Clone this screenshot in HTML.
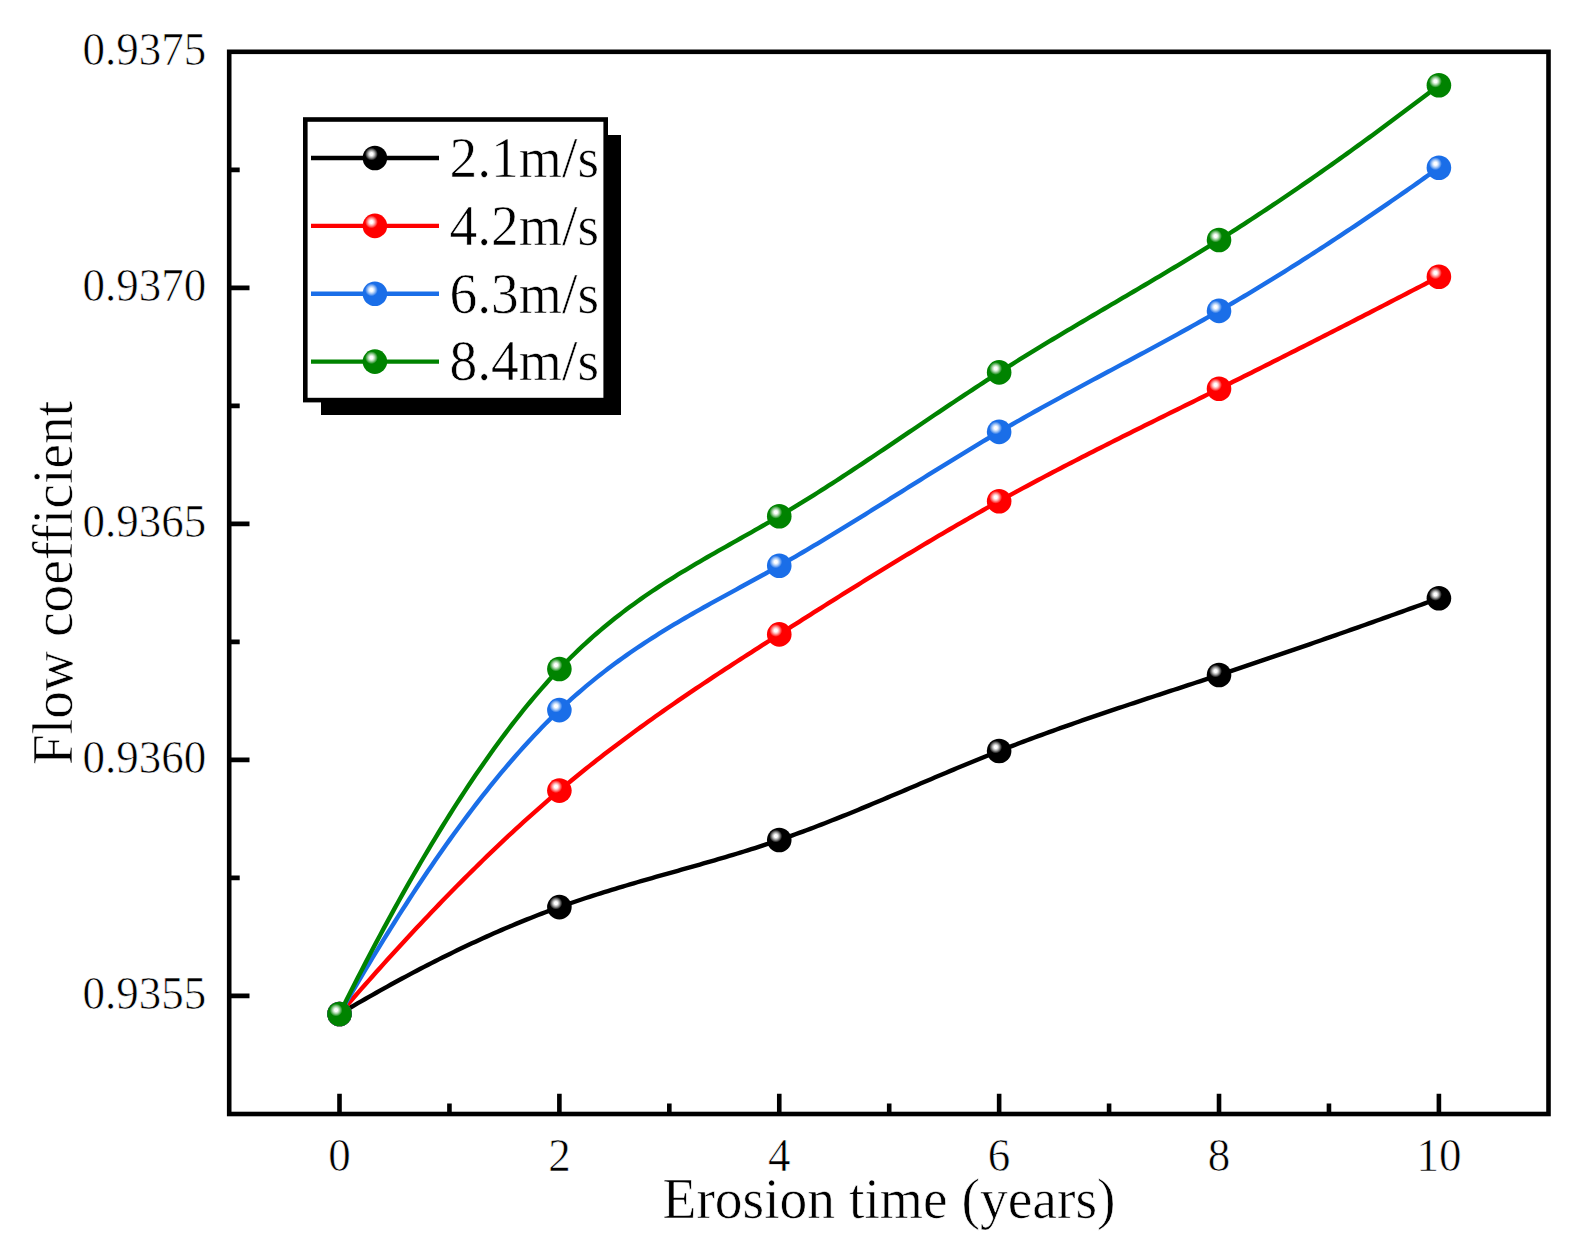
<!DOCTYPE html>
<html><head><meta charset="utf-8"><title>Flow coefficient vs erosion time</title>
<style>
html,body{margin:0;padding:0;background:#fff;}
body{width:1586px;height:1251px;overflow:hidden;}
svg{display:block;}
text{font-family:"Liberation Serif","Times New Roman",serif;fill:#000;stroke:#fff;stroke-width:0.6;stroke-linejoin:round;}
</style></head><body>
<svg width="1586" height="1251" viewBox="0 0 1586 1251">
<defs>
<radialGradient id="gk" cx="0.36" cy="0.34" fx="0.36" fy="0.34" r="0.55">
<stop offset="0" stop-color="#ffffff"/>
<stop offset="0.11" stop-color="#ffffff"/>
<stop offset="0.24" stop-color="#b2b2b2"/>
<stop offset="0.36" stop-color="#595959"/>
<stop offset="0.47" stop-color="#000000"/>
<stop offset="1" stop-color="#000000"/>
</radialGradient>
<radialGradient id="gr" cx="0.36" cy="0.34" fx="0.36" fy="0.34" r="0.55">
<stop offset="0" stop-color="#ffffff"/>
<stop offset="0.11" stop-color="#ffffff"/>
<stop offset="0.24" stop-color="#ffb2b2"/>
<stop offset="0.36" stop-color="#ff5959"/>
<stop offset="0.47" stop-color="#ff0000"/>
<stop offset="1" stop-color="#ff0000"/>
</radialGradient>
<radialGradient id="gb" cx="0.36" cy="0.34" fx="0.36" fy="0.34" r="0.55">
<stop offset="0" stop-color="#ffffff"/>
<stop offset="0.11" stop-color="#ffffff"/>
<stop offset="0.24" stop-color="#bad4f8"/>
<stop offset="0.36" stop-color="#6aa1f0"/>
<stop offset="0.47" stop-color="#1a6ee8"/>
<stop offset="1" stop-color="#1a6ee8"/>
</radialGradient>
<radialGradient id="gg" cx="0.36" cy="0.34" fx="0.36" fy="0.34" r="0.55">
<stop offset="0" stop-color="#ffffff"/>
<stop offset="0.11" stop-color="#ffffff"/>
<stop offset="0.24" stop-color="#b2dab2"/>
<stop offset="0.36" stop-color="#59ae59"/>
<stop offset="0.47" stop-color="#008300"/>
<stop offset="1" stop-color="#008300"/>
</radialGradient>
</defs>
<rect x="0" y="0" width="1586" height="1251" fill="#fff"/>
<path d="M339.50,1014.00 L343.18,1011.82 L346.85,1009.66 L350.53,1007.50 L354.21,1005.35 L357.88,1003.22 L361.56,1001.10 L365.24,998.99 L368.92,996.89 L372.59,994.80 L376.27,992.73 L379.95,990.67 L383.62,988.61 L387.30,986.58 L390.98,984.55 L394.65,982.54 L398.33,980.54 L402.01,978.55 L405.68,976.57 L409.36,974.61 L413.04,972.66 L416.72,970.72 L420.39,968.80 L424.07,966.89 L427.75,965.00 L431.42,963.12 L435.10,961.25 L438.78,959.39 L442.45,957.55 L446.13,955.73 L449.81,953.92 L453.48,952.12 L457.16,950.34 L460.84,948.57 L464.52,946.82 L468.19,945.08 L471.87,943.36 L475.55,941.65 L479.22,939.96 L482.90,938.28 L486.58,936.62 L490.25,934.97 L493.93,933.34 L497.61,931.73 L501.28,930.13 L504.96,928.55 L508.64,926.98 L512.32,925.43 L515.99,923.90 L519.67,922.38 L523.35,920.88 L527.02,919.40 L530.70,917.94 L534.38,916.49 L538.05,915.06 L541.73,913.64 L545.41,912.25 L549.08,910.87 L552.76,909.51 L556.44,908.16 L560.12,906.84 L563.79,905.53 L567.47,904.24 L571.15,902.97 L574.82,901.71 L578.50,900.47 L582.18,899.24 L585.85,898.03 L589.53,896.83 L593.21,895.65 L596.88,894.47 L600.56,893.31 L604.24,892.17 L607.92,891.03 L611.59,889.90 L615.27,888.78 L618.95,887.68 L622.62,886.58 L626.30,885.49 L629.98,884.41 L633.65,883.33 L637.33,882.26 L641.01,881.20 L644.68,880.14 L648.36,879.09 L652.04,878.04 L655.72,876.99 L659.39,875.95 L663.07,874.91 L666.75,873.87 L670.42,872.83 L674.10,871.80 L677.78,870.76 L681.45,869.72 L685.13,868.69 L688.81,867.65 L692.48,866.61 L696.16,865.56 L699.84,864.52 L703.52,863.47 L707.19,862.41 L710.87,861.35 L714.55,860.28 L718.22,859.21 L721.90,858.13 L725.58,857.05 L729.25,855.95 L732.93,854.85 L736.61,853.74 L740.28,852.62 L743.96,851.49 L747.64,850.35 L751.32,849.19 L754.99,848.03 L758.67,846.85 L762.35,845.66 L766.02,844.46 L769.70,843.24 L773.38,842.00 L777.05,840.76 L780.73,839.49 L784.41,838.21 L788.08,836.92 L791.76,835.61 L795.44,834.28 L799.12,832.94 L802.79,831.59 L806.47,830.22 L810.15,828.84 L813.82,827.45 L817.50,826.04 L821.18,824.63 L824.85,823.20 L828.53,821.76 L832.21,820.31 L835.88,818.85 L839.56,817.38 L843.24,815.91 L846.92,814.42 L850.59,812.93 L854.27,811.43 L857.95,809.92 L861.62,808.40 L865.30,806.88 L868.98,805.35 L872.65,803.82 L876.33,802.28 L880.01,800.74 L883.68,799.19 L887.36,797.64 L891.04,796.09 L894.72,794.53 L898.39,792.97 L902.07,791.41 L905.75,789.85 L909.42,788.28 L913.10,786.72 L916.78,785.15 L920.45,783.59 L924.13,782.03 L927.81,780.46 L931.48,778.90 L935.16,777.34 L938.84,775.79 L942.52,774.24 L946.19,772.68 L949.87,771.14 L953.55,769.60 L957.22,768.06 L960.90,766.53 L964.58,765.00 L968.25,763.48 L971.93,761.96 L975.61,760.46 L979.28,758.96 L982.96,757.46 L986.64,755.98 L990.32,754.50 L993.99,753.04 L997.67,751.58 L1001.35,750.13 L1005.02,748.70 L1008.70,747.27 L1012.38,745.85 L1016.05,744.44 L1019.73,743.04 L1023.41,741.65 L1027.08,740.27 L1030.76,738.90 L1034.44,737.53 L1038.12,736.18 L1041.79,734.83 L1045.47,733.49 L1049.15,732.15 L1052.82,730.83 L1056.50,729.51 L1060.18,728.19 L1063.85,726.89 L1067.53,725.59 L1071.21,724.30 L1074.88,723.01 L1078.56,721.73 L1082.24,720.45 L1085.92,719.18 L1089.59,717.91 L1093.27,716.65 L1096.95,715.40 L1100.62,714.15 L1104.30,712.90 L1107.98,711.66 L1111.65,710.42 L1115.33,709.18 L1119.01,707.95 L1122.68,706.72 L1126.36,705.50 L1130.04,704.28 L1133.72,703.06 L1137.39,701.84 L1141.07,700.62 L1144.75,699.41 L1148.42,698.20 L1152.10,696.99 L1155.78,695.78 L1159.45,694.57 L1163.13,693.37 L1166.81,692.16 L1170.48,690.96 L1174.16,689.75 L1177.84,688.55 L1181.52,687.34 L1185.19,686.14 L1188.87,684.93 L1192.55,683.73 L1196.22,682.52 L1199.90,681.31 L1203.58,680.10 L1207.25,678.89 L1210.93,677.68 L1214.61,676.46 L1218.28,675.24 L1221.96,674.02 L1225.64,672.80 L1229.32,671.58 L1232.99,670.35 L1236.67,669.12 L1240.35,667.89 L1244.02,666.66 L1247.70,665.42 L1251.38,664.18 L1255.05,662.94 L1258.73,661.70 L1262.41,660.45 L1266.08,659.20 L1269.76,657.95 L1273.44,656.70 L1277.12,655.44 L1280.79,654.19 L1284.47,652.93 L1288.15,651.67 L1291.82,650.40 L1295.50,649.14 L1299.18,647.87 L1302.85,646.60 L1306.53,645.33 L1310.21,644.06 L1313.88,642.78 L1317.56,641.50 L1321.24,640.22 L1324.92,638.94 L1328.59,637.66 L1332.27,636.37 L1335.95,635.08 L1339.62,633.79 L1343.30,632.50 L1346.98,631.21 L1350.65,629.91 L1354.33,628.62 L1358.01,627.32 L1361.68,626.02 L1365.36,624.71 L1369.04,623.41 L1372.72,622.10 L1376.39,620.79 L1380.07,619.48 L1383.75,618.17 L1387.42,616.86 L1391.10,615.54 L1394.78,614.23 L1398.45,612.91 L1402.13,611.59 L1405.81,610.27 L1409.48,608.94 L1413.16,607.62 L1416.84,606.29 L1420.52,604.96 L1424.19,603.63 L1427.87,602.30 L1431.55,600.97 L1435.22,599.64 L1438.90,598.30" fill="none" stroke="#000000" stroke-width="4.4" stroke-linejoin="round"/>
<circle cx="339.50" cy="1014.00" r="12.3" fill="url(#gk)"/>
<circle cx="559.38" cy="907.10" r="12.3" fill="url(#gk)"/>
<circle cx="779.26" cy="840.00" r="12.3" fill="url(#gk)"/>
<circle cx="999.14" cy="751.00" r="12.3" fill="url(#gk)"/>
<circle cx="1219.02" cy="675.00" r="12.3" fill="url(#gk)"/>
<circle cx="1438.90" cy="598.30" r="12.3" fill="url(#gk)"/>
<path d="M339.50,1014.00 L343.18,1009.74 L346.85,1005.50 L350.53,1001.27 L354.21,997.05 L357.88,992.85 L361.56,988.67 L365.24,984.50 L368.92,980.35 L372.59,976.21 L376.27,972.09 L379.95,967.98 L383.62,963.89 L387.30,959.82 L390.98,955.77 L394.65,951.73 L398.33,947.70 L402.01,943.70 L405.68,939.71 L409.36,935.74 L413.04,931.79 L416.72,927.85 L420.39,923.94 L424.07,920.04 L427.75,916.16 L431.42,912.30 L435.10,908.45 L438.78,904.63 L442.45,900.82 L446.13,897.03 L449.81,893.27 L453.48,889.52 L457.16,885.79 L460.84,882.08 L464.52,878.39 L468.19,874.72 L471.87,871.07 L475.55,867.45 L479.22,863.84 L482.90,860.25 L486.58,856.68 L490.25,853.14 L493.93,849.61 L497.61,846.11 L501.28,842.63 L504.96,839.17 L508.64,835.73 L512.32,832.31 L515.99,828.92 L519.67,825.55 L523.35,822.20 L527.02,818.87 L530.70,815.57 L534.38,812.29 L538.05,809.03 L541.73,805.80 L545.41,802.59 L549.08,799.40 L552.76,796.23 L556.44,793.09 L560.12,789.98 L563.79,786.89 L567.47,783.82 L571.15,780.77 L574.82,777.75 L578.50,774.75 L582.18,771.78 L585.85,768.82 L589.53,765.89 L593.21,762.98 L596.88,760.09 L600.56,757.21 L604.24,754.36 L607.92,751.53 L611.59,748.72 L615.27,745.92 L618.95,743.15 L622.62,740.39 L626.30,737.65 L629.98,734.93 L633.65,732.22 L637.33,729.53 L641.01,726.86 L644.68,724.20 L648.36,721.56 L652.04,718.94 L655.72,716.32 L659.39,713.73 L663.07,711.14 L666.75,708.57 L670.42,706.01 L674.10,703.47 L677.78,700.93 L681.45,698.41 L685.13,695.90 L688.81,693.41 L692.48,690.92 L696.16,688.44 L699.84,685.98 L703.52,683.52 L707.19,681.07 L710.87,678.63 L714.55,676.20 L718.22,673.78 L721.90,671.36 L725.58,668.95 L729.25,666.55 L732.93,664.16 L736.61,661.77 L740.28,659.39 L743.96,657.01 L747.64,654.64 L751.32,652.28 L754.99,649.91 L758.67,647.55 L762.35,645.20 L766.02,642.85 L769.70,640.50 L773.38,638.15 L777.05,635.81 L780.73,633.46 L784.41,631.12 L788.08,628.78 L791.76,626.44 L795.44,624.11 L799.12,621.77 L802.79,619.44 L806.47,617.11 L810.15,614.78 L813.82,612.45 L817.50,610.13 L821.18,607.81 L824.85,605.49 L828.53,603.18 L832.21,600.87 L835.88,598.56 L839.56,596.25 L843.24,593.95 L846.92,591.65 L850.59,589.36 L854.27,587.07 L857.95,584.78 L861.62,582.50 L865.30,580.22 L868.98,577.94 L872.65,575.67 L876.33,573.41 L880.01,571.15 L883.68,568.89 L887.36,566.64 L891.04,564.40 L894.72,562.15 L898.39,559.92 L902.07,557.69 L905.75,555.46 L909.42,553.25 L913.10,551.03 L916.78,548.83 L920.45,546.62 L924.13,544.43 L927.81,542.24 L931.48,540.06 L935.16,537.88 L938.84,535.71 L942.52,533.55 L946.19,531.40 L949.87,529.25 L953.55,527.11 L957.22,524.97 L960.90,522.85 L964.58,520.73 L968.25,518.62 L971.93,516.51 L975.61,514.42 L979.28,512.33 L982.96,510.25 L986.64,508.18 L990.32,506.12 L993.99,504.06 L997.67,502.02 L1001.35,499.98 L1005.02,497.95 L1008.70,495.93 L1012.38,493.92 L1016.05,491.92 L1019.73,489.92 L1023.41,487.93 L1027.08,485.95 L1030.76,483.98 L1034.44,482.02 L1038.12,480.06 L1041.79,478.11 L1045.47,476.17 L1049.15,474.23 L1052.82,472.30 L1056.50,470.37 L1060.18,468.45 L1063.85,466.54 L1067.53,464.63 L1071.21,462.73 L1074.88,460.84 L1078.56,458.94 L1082.24,457.06 L1085.92,455.18 L1089.59,453.30 L1093.27,451.43 L1096.95,449.56 L1100.62,447.70 L1104.30,445.84 L1107.98,443.98 L1111.65,442.13 L1115.33,440.28 L1119.01,438.43 L1122.68,436.59 L1126.36,434.75 L1130.04,432.91 L1133.72,431.08 L1137.39,429.25 L1141.07,427.42 L1144.75,425.59 L1148.42,423.76 L1152.10,421.94 L1155.78,420.11 L1159.45,418.29 L1163.13,416.47 L1166.81,414.65 L1170.48,412.83 L1174.16,411.01 L1177.84,409.19 L1181.52,407.37 L1185.19,405.56 L1188.87,403.74 L1192.55,401.92 L1196.22,400.10 L1199.90,398.28 L1203.58,396.46 L1207.25,394.64 L1210.93,392.82 L1214.61,390.99 L1218.28,389.17 L1221.96,387.34 L1225.64,385.51 L1229.32,383.68 L1232.99,381.84 L1236.67,380.01 L1240.35,378.17 L1244.02,376.34 L1247.70,374.50 L1251.38,372.66 L1255.05,370.81 L1258.73,368.97 L1262.41,367.12 L1266.08,365.27 L1269.76,363.42 L1273.44,361.57 L1277.12,359.72 L1280.79,357.87 L1284.47,356.01 L1288.15,354.15 L1291.82,352.29 L1295.50,350.43 L1299.18,348.57 L1302.85,346.71 L1306.53,344.84 L1310.21,342.98 L1313.88,341.11 L1317.56,339.24 L1321.24,337.37 L1324.92,335.49 L1328.59,333.62 L1332.27,331.75 L1335.95,329.87 L1339.62,327.99 L1343.30,326.11 L1346.98,324.23 L1350.65,322.35 L1354.33,320.47 L1358.01,318.58 L1361.68,316.69 L1365.36,314.81 L1369.04,312.92 L1372.72,311.03 L1376.39,309.14 L1380.07,307.24 L1383.75,305.35 L1387.42,303.45 L1391.10,301.56 L1394.78,299.66 L1398.45,297.76 L1402.13,295.86 L1405.81,293.96 L1409.48,292.06 L1413.16,290.16 L1416.84,288.25 L1420.52,286.35 L1424.19,284.44 L1427.87,282.53 L1431.55,280.62 L1435.22,278.71 L1438.90,276.80" fill="none" stroke="#ff0000" stroke-width="4.4" stroke-linejoin="round"/>
<circle cx="339.50" cy="1014.00" r="12.3" fill="url(#gr)"/>
<circle cx="559.38" cy="790.60" r="12.3" fill="url(#gr)"/>
<circle cx="779.26" cy="634.40" r="12.3" fill="url(#gr)"/>
<circle cx="999.14" cy="501.20" r="12.3" fill="url(#gr)"/>
<circle cx="1219.02" cy="388.80" r="12.3" fill="url(#gr)"/>
<circle cx="1438.90" cy="276.80" r="12.3" fill="url(#gr)"/>
<path d="M339.50,1014.00 L343.18,1007.59 L346.85,1001.23 L350.53,994.89 L354.21,988.60 L357.88,982.35 L361.56,976.13 L365.24,969.95 L368.92,963.82 L372.59,957.72 L376.27,951.66 L379.95,945.65 L383.62,939.67 L387.30,933.74 L390.98,927.85 L394.65,922.00 L398.33,916.19 L402.01,910.43 L405.68,904.71 L409.36,899.04 L413.04,893.41 L416.72,887.82 L420.39,882.28 L424.07,876.79 L427.75,871.34 L431.42,865.94 L435.10,860.58 L438.78,855.28 L442.45,850.02 L446.13,844.81 L449.81,839.64 L453.48,834.53 L457.16,829.47 L460.84,824.45 L464.52,819.49 L468.19,814.58 L471.87,809.71 L475.55,804.90 L479.22,800.14 L482.90,795.44 L486.58,790.78 L490.25,786.18 L493.93,781.63 L497.61,777.14 L501.28,772.70 L504.96,768.32 L508.64,763.99 L512.32,759.72 L515.99,755.50 L519.67,751.34 L523.35,747.23 L527.02,743.18 L530.70,739.20 L534.38,735.26 L538.05,731.39 L541.73,727.58 L545.41,723.82 L549.08,720.13 L552.76,716.49 L556.44,712.92 L560.12,709.40 L563.79,705.95 L567.47,702.56 L571.15,699.22 L574.82,695.94 L578.50,692.72 L582.18,689.55 L585.85,686.44 L589.53,683.38 L593.21,680.37 L596.88,677.41 L600.56,674.50 L604.24,671.63 L607.92,668.81 L611.59,666.04 L615.27,663.30 L618.95,660.62 L622.62,657.97 L626.30,655.36 L629.98,652.79 L633.65,650.26 L637.33,647.76 L641.01,645.30 L644.68,642.87 L648.36,640.47 L652.04,638.10 L655.72,635.77 L659.39,633.46 L663.07,631.18 L666.75,628.92 L670.42,626.69 L674.10,624.48 L677.78,622.30 L681.45,620.13 L685.13,617.99 L688.81,615.86 L692.48,613.75 L696.16,611.66 L699.84,609.58 L703.52,607.51 L707.19,605.46 L710.87,603.41 L714.55,601.38 L718.22,599.35 L721.90,597.34 L725.58,595.32 L729.25,593.31 L732.93,591.31 L736.61,589.31 L740.28,587.30 L743.96,585.30 L747.64,583.30 L751.32,581.29 L754.99,579.28 L758.67,577.26 L762.35,575.23 L766.02,573.20 L769.70,571.16 L773.38,569.11 L777.05,567.04 L780.73,564.97 L784.41,562.88 L788.08,560.77 L791.76,558.66 L795.44,556.53 L799.12,554.39 L802.79,552.23 L806.47,550.07 L810.15,547.90 L813.82,545.71 L817.50,543.52 L821.18,541.31 L824.85,539.10 L828.53,536.88 L832.21,534.65 L835.88,532.41 L839.56,530.17 L843.24,527.92 L846.92,525.66 L850.59,523.39 L854.27,521.12 L857.95,518.85 L861.62,516.57 L865.30,514.29 L868.98,512.00 L872.65,509.71 L876.33,507.41 L880.01,505.12 L883.68,502.82 L887.36,500.52 L891.04,498.21 L894.72,495.91 L898.39,493.61 L902.07,491.30 L905.75,489.00 L909.42,486.70 L913.10,484.40 L916.78,482.10 L920.45,479.80 L924.13,477.50 L927.81,475.21 L931.48,472.92 L935.16,470.63 L938.84,468.35 L942.52,466.08 L946.19,463.80 L949.87,461.54 L953.55,459.28 L957.22,457.02 L960.90,454.78 L964.58,452.53 L968.25,450.30 L971.93,448.08 L975.61,445.86 L979.28,443.65 L982.96,441.45 L986.64,439.26 L990.32,437.09 L993.99,434.92 L997.67,432.76 L1001.35,430.61 L1005.02,428.48 L1008.70,426.35 L1012.38,424.24 L1016.05,422.14 L1019.73,420.04 L1023.41,417.96 L1027.08,415.89 L1030.76,413.82 L1034.44,411.76 L1038.12,409.71 L1041.79,407.67 L1045.47,405.63 L1049.15,403.61 L1052.82,401.58 L1056.50,399.57 L1060.18,397.56 L1063.85,395.55 L1067.53,393.56 L1071.21,391.56 L1074.88,389.57 L1078.56,387.58 L1082.24,385.60 L1085.92,383.62 L1089.59,381.64 L1093.27,379.67 L1096.95,377.70 L1100.62,375.72 L1104.30,373.75 L1107.98,371.79 L1111.65,369.82 L1115.33,367.85 L1119.01,365.88 L1122.68,363.91 L1126.36,361.94 L1130.04,359.97 L1133.72,358.00 L1137.39,356.02 L1141.07,354.05 L1144.75,352.07 L1148.42,350.09 L1152.10,348.10 L1155.78,346.11 L1159.45,344.11 L1163.13,342.11 L1166.81,340.11 L1170.48,338.10 L1174.16,336.09 L1177.84,334.07 L1181.52,332.04 L1185.19,330.00 L1188.87,327.96 L1192.55,325.91 L1196.22,323.85 L1199.90,321.79 L1203.58,319.71 L1207.25,317.63 L1210.93,315.54 L1214.61,313.44 L1218.28,311.32 L1221.96,309.20 L1225.64,307.07 L1229.32,304.92 L1232.99,302.77 L1236.67,300.60 L1240.35,298.43 L1244.02,296.24 L1247.70,294.05 L1251.38,291.84 L1255.05,289.63 L1258.73,287.40 L1262.41,285.17 L1266.08,282.92 L1269.76,280.67 L1273.44,278.40 L1277.12,276.13 L1280.79,273.84 L1284.47,271.55 L1288.15,269.25 L1291.82,266.94 L1295.50,264.62 L1299.18,262.29 L1302.85,259.95 L1306.53,257.60 L1310.21,255.25 L1313.88,252.88 L1317.56,250.51 L1321.24,248.12 L1324.92,245.73 L1328.59,243.33 L1332.27,240.92 L1335.95,238.51 L1339.62,236.08 L1343.30,233.65 L1346.98,231.20 L1350.65,228.76 L1354.33,226.30 L1358.01,223.83 L1361.68,221.36 L1365.36,218.88 L1369.04,216.39 L1372.72,213.89 L1376.39,211.38 L1380.07,208.87 L1383.75,206.35 L1387.42,203.82 L1391.10,201.29 L1394.78,198.75 L1398.45,196.20 L1402.13,193.64 L1405.81,191.08 L1409.48,188.51 L1413.16,185.93 L1416.84,183.35 L1420.52,180.75 L1424.19,178.16 L1427.87,175.55 L1431.55,172.94 L1435.22,170.32 L1438.90,167.70" fill="none" stroke="#1a6ee8" stroke-width="4.4" stroke-linejoin="round"/>
<circle cx="339.50" cy="1014.00" r="12.3" fill="url(#gb)"/>
<circle cx="559.38" cy="710.10" r="12.3" fill="url(#gb)"/>
<circle cx="779.26" cy="565.80" r="12.3" fill="url(#gb)"/>
<circle cx="999.14" cy="431.90" r="12.3" fill="url(#gb)"/>
<circle cx="1219.02" cy="310.90" r="12.3" fill="url(#gb)"/>
<circle cx="1438.90" cy="167.70" r="12.3" fill="url(#gb)"/>
<path d="M339.50,1014.00 L343.18,1006.63 L346.85,999.31 L350.53,992.03 L354.21,984.80 L357.88,977.61 L361.56,970.47 L365.24,963.38 L368.92,956.34 L372.59,949.34 L376.27,942.39 L379.95,935.50 L383.62,928.65 L387.30,921.85 L390.98,915.10 L394.65,908.41 L398.33,901.77 L402.01,895.17 L405.68,888.64 L409.36,882.15 L413.04,875.72 L416.72,869.34 L420.39,863.02 L424.07,856.75 L427.75,850.54 L431.42,844.39 L435.10,838.29 L438.78,832.25 L442.45,826.26 L446.13,820.34 L449.81,814.47 L453.48,808.66 L457.16,802.92 L460.84,797.23 L464.52,791.60 L468.19,786.04 L471.87,780.53 L475.55,775.09 L479.22,769.71 L482.90,764.40 L486.58,759.14 L490.25,753.96 L493.93,748.83 L497.61,743.77 L501.28,738.78 L504.96,733.86 L508.64,729.00 L512.32,724.20 L515.99,719.48 L519.67,714.82 L523.35,710.23 L527.02,705.71 L530.70,701.26 L534.38,696.88 L538.05,692.57 L541.73,688.34 L545.41,684.17 L549.08,680.08 L552.76,676.05 L556.44,672.11 L560.12,668.23 L563.79,664.43 L567.47,660.70 L571.15,657.04 L574.82,653.45 L578.50,649.93 L582.18,646.47 L585.85,643.08 L589.53,639.75 L593.21,636.48 L596.88,633.28 L600.56,630.13 L604.24,627.03 L607.92,624.00 L611.59,621.01 L615.27,618.08 L618.95,615.20 L622.62,612.37 L626.30,609.58 L629.98,606.85 L633.65,604.15 L637.33,601.50 L641.01,598.89 L644.68,596.32 L648.36,593.79 L652.04,591.30 L655.72,588.84 L659.39,586.42 L663.07,584.02 L666.75,581.66 L670.42,579.33 L674.10,577.02 L677.78,574.74 L681.45,572.49 L685.13,570.26 L688.81,568.05 L692.48,565.86 L696.16,563.69 L699.84,561.53 L703.52,559.40 L707.19,557.27 L710.87,555.16 L714.55,553.06 L718.22,550.96 L721.90,548.88 L725.58,546.80 L729.25,544.73 L732.93,542.66 L736.61,540.59 L740.28,538.52 L743.96,536.45 L747.64,534.38 L751.32,532.30 L754.99,530.21 L758.67,528.12 L762.35,526.02 L766.02,523.91 L769.70,521.79 L773.38,519.65 L777.05,517.50 L780.73,515.33 L784.41,513.14 L788.08,510.94 L791.76,508.72 L795.44,506.48 L799.12,504.23 L802.79,501.97 L806.47,499.69 L810.15,497.39 L813.82,495.08 L817.50,492.76 L821.18,490.43 L824.85,488.08 L828.53,485.72 L832.21,483.35 L835.88,480.98 L839.56,478.59 L843.24,476.19 L846.92,473.78 L850.59,471.36 L854.27,468.94 L857.95,466.51 L861.62,464.07 L865.30,461.62 L868.98,459.17 L872.65,456.71 L876.33,454.25 L880.01,451.78 L883.68,449.31 L887.36,446.83 L891.04,444.36 L894.72,441.87 L898.39,439.39 L902.07,436.91 L905.75,434.42 L909.42,431.93 L913.10,429.45 L916.78,426.96 L920.45,424.47 L924.13,421.99 L927.81,419.51 L931.48,417.03 L935.16,414.55 L938.84,412.08 L942.52,409.61 L946.19,407.14 L949.87,404.68 L953.55,402.22 L957.22,399.77 L960.90,397.33 L964.58,394.89 L968.25,392.46 L971.93,390.04 L975.61,387.62 L979.28,385.22 L982.96,382.82 L986.64,380.43 L990.32,378.06 L993.99,375.69 L997.67,373.34 L1001.35,371.00 L1005.02,368.66 L1008.70,366.34 L1012.38,364.04 L1016.05,361.74 L1019.73,359.45 L1023.41,357.17 L1027.08,354.90 L1030.76,352.64 L1034.44,350.39 L1038.12,348.15 L1041.79,345.91 L1045.47,343.68 L1049.15,341.46 L1052.82,339.25 L1056.50,337.04 L1060.18,334.84 L1063.85,332.65 L1067.53,330.45 L1071.21,328.27 L1074.88,326.09 L1078.56,323.91 L1082.24,321.74 L1085.92,319.57 L1089.59,317.40 L1093.27,315.23 L1096.95,313.07 L1100.62,310.91 L1104.30,308.75 L1107.98,306.59 L1111.65,304.44 L1115.33,302.28 L1119.01,300.12 L1122.68,297.96 L1126.36,295.80 L1130.04,293.65 L1133.72,291.48 L1137.39,289.32 L1141.07,287.15 L1144.75,284.99 L1148.42,282.81 L1152.10,280.64 L1155.78,278.46 L1159.45,276.28 L1163.13,274.09 L1166.81,271.90 L1170.48,269.70 L1174.16,267.50 L1177.84,265.29 L1181.52,263.07 L1185.19,260.85 L1188.87,258.61 L1192.55,256.38 L1196.22,254.13 L1199.90,251.88 L1203.58,249.61 L1207.25,247.34 L1210.93,245.06 L1214.61,242.76 L1218.28,240.46 L1221.96,238.15 L1225.64,235.82 L1229.32,233.49 L1232.99,231.15 L1236.67,228.79 L1240.35,226.42 L1244.02,224.05 L1247.70,221.66 L1251.38,219.26 L1255.05,216.86 L1258.73,214.44 L1262.41,212.01 L1266.08,209.58 L1269.76,207.13 L1273.44,204.67 L1277.12,202.21 L1280.79,199.73 L1284.47,197.25 L1288.15,194.75 L1291.82,192.25 L1295.50,189.73 L1299.18,187.21 L1302.85,184.68 L1306.53,182.14 L1310.21,179.59 L1313.88,177.03 L1317.56,174.46 L1321.24,171.89 L1324.92,169.30 L1328.59,166.71 L1332.27,164.10 L1335.95,161.49 L1339.62,158.87 L1343.30,156.24 L1346.98,153.61 L1350.65,150.96 L1354.33,148.31 L1358.01,145.65 L1361.68,142.98 L1365.36,140.30 L1369.04,137.62 L1372.72,134.92 L1376.39,132.22 L1380.07,129.52 L1383.75,126.80 L1387.42,124.08 L1391.10,121.35 L1394.78,118.61 L1398.45,115.86 L1402.13,113.11 L1405.81,110.35 L1409.48,107.58 L1413.16,104.81 L1416.84,102.03 L1420.52,99.24 L1424.19,96.45 L1427.87,93.64 L1431.55,90.84 L1435.22,88.02 L1438.90,85.20" fill="none" stroke="#008300" stroke-width="4.4" stroke-linejoin="round"/>
<circle cx="339.50" cy="1014.00" r="12.3" fill="url(#gg)"/>
<circle cx="559.38" cy="669.00" r="12.3" fill="url(#gg)"/>
<circle cx="779.26" cy="516.20" r="12.3" fill="url(#gg)"/>
<circle cx="999.14" cy="372.40" r="12.3" fill="url(#gg)"/>
<circle cx="1219.02" cy="240.00" r="12.3" fill="url(#gg)"/>
<circle cx="1438.90" cy="85.20" r="12.3" fill="url(#gg)"/>
<rect x="229.2" y="51.8" width="1319.30" height="1062.20" fill="none" stroke="#000" stroke-width="4.6"/>
<path d="M229.20,287.90 H249.50 M229.20,523.90 H249.50 M229.20,759.90 H249.50 M229.20,995.90 H249.50 M229.20,169.90 H239.70 M229.20,405.90 H239.70 M229.20,641.90 H239.70 M229.20,877.90 H239.70 M339.50,1114.00 V1093.70 M559.38,1114.00 V1093.70 M779.26,1114.00 V1093.70 M999.14,1114.00 V1093.70 M1219.02,1114.00 V1093.70 M1438.90,1114.00 V1093.70 M449.44,1114.00 V1103.50 M669.32,1114.00 V1103.50 M889.20,1114.00 V1103.50 M1109.08,1114.00 V1103.50 M1328.96,1114.00 V1103.50" stroke="#000" stroke-width="4.6" fill="none"/>
<text transform="translate(206.3,64.5) scale(1,1.035)" font-size="45" text-anchor="end">0.9375</text>
<text transform="translate(206.3,300.5) scale(1,1.035)" font-size="45" text-anchor="end">0.9370</text>
<text transform="translate(206.3,536.5) scale(1,1.035)" font-size="45" text-anchor="end">0.9365</text>
<text transform="translate(206.3,772.5) scale(1,1.035)" font-size="45" text-anchor="end">0.9360</text>
<text transform="translate(206.3,1008.5) scale(1,1.035)" font-size="45" text-anchor="end">0.9355</text>
<text transform="translate(339.5,1171) scale(1,1.035)" font-size="45" text-anchor="middle">0</text>
<text transform="translate(559.4,1171) scale(1,1.035)" font-size="45" text-anchor="middle">2</text>
<text transform="translate(779.3,1171) scale(1,1.035)" font-size="45" text-anchor="middle">4</text>
<text transform="translate(999.1,1171) scale(1,1.035)" font-size="45" text-anchor="middle">6</text>
<text transform="translate(1219.0,1171) scale(1,1.035)" font-size="45" text-anchor="middle">8</text>
<text transform="translate(1438.9,1171) scale(1,1.035)" font-size="45" text-anchor="middle">10</text>
<text transform="translate(889,1217.8) scale(1,1.03)" font-size="55.5" text-anchor="middle">Erosion time (years)</text>
<text transform="translate(72.3,583) rotate(-90) scale(1,1.03)" font-size="55.5" text-anchor="middle">Flow coefficient</text>
<rect x="321" y="135" width="300" height="280" fill="#000"/>
<rect x="305.3" y="119.5" width="300.4" height="280.6" fill="#fff" stroke="#000" stroke-width="4.6"/>
<path d="M311,158.0 H439" stroke="#000000" stroke-width="4.4"/>
<circle cx="374.9" cy="158.0" r="12.3" fill="url(#gk)"/>
<text transform="translate(449.5,176.8) scale(1,1.015)" font-size="55.5">2.1m/s</text>
<path d="M311,225.9 H439" stroke="#ff0000" stroke-width="4.4"/>
<circle cx="374.9" cy="225.9" r="12.3" fill="url(#gr)"/>
<text transform="translate(449.5,244.7) scale(1,1.015)" font-size="55.5">4.2m/s</text>
<path d="M311,293.8 H439" stroke="#1a6ee8" stroke-width="4.4"/>
<circle cx="374.9" cy="293.8" r="12.3" fill="url(#gb)"/>
<text transform="translate(449.5,312.6) scale(1,1.015)" font-size="55.5">6.3m/s</text>
<path d="M311,361.6 H439" stroke="#008300" stroke-width="4.4"/>
<circle cx="374.9" cy="361.6" r="12.3" fill="url(#gg)"/>
<text transform="translate(449.5,380.4) scale(1,1.015)" font-size="55.5">8.4m/s</text>
</svg></body></html>
